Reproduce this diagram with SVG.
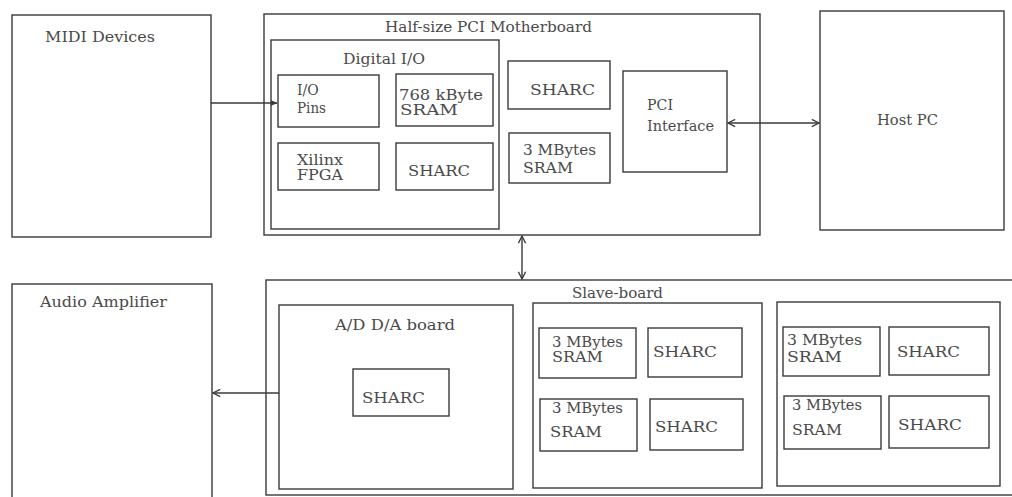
<svg xmlns="http://www.w3.org/2000/svg" width="1012" height="497" viewBox="0 0 1012 497">
<style>
rect{fill:none;stroke:#3a3a3a;stroke-width:1.4}
rect.bg{fill:#fff;stroke:none}
text{font-family:"DejaVu Serif","Liberation Serif",serif;font-size:14px;fill:#4a4a4a}
.c line{stroke:#3a3a3a;stroke-width:1.4}
</style>
<defs>
<marker id="a" viewBox="0 0 10 10" refX="9" refY="5" markerWidth="9" markerHeight="9" orient="auto-start-reverse" markerUnits="userSpaceOnUse">
<path d="M1,1 L9,5 L1,9" fill="none" stroke="#3a3a3a" stroke-width="1.5"/>
</marker>
<marker id="f" viewBox="0 0 10 10" refX="9" refY="5" markerWidth="7" markerHeight="7" orient="auto" markerUnits="userSpaceOnUse">
<path d="M0,1 L10,5 L0,9 z" fill="#3a3a3a"/>
</marker>
</defs>
<rect class="bg" width="1012" height="497"/>
<g id="midi"><rect x="12" y="15" width="199" height="222"/><text x="45" y="42" textLength="110" lengthAdjust="spacingAndGlyphs">MIDI Devices</text></g>
<g id="motherboard"><rect x="264" y="14" width="496" height="221"/><text x="385" y="32" textLength="207" lengthAdjust="spacingAndGlyphs">Half-size PCI Motherboard</text></g>
<g id="digitalio"><rect x="271" y="40" width="228" height="189"/><text x="343" y="64" textLength="82" lengthAdjust="spacingAndGlyphs">Digital I/O</text></g>
<g id="iopins"><rect x="278" y="75" width="101" height="52"/><text x="297" y="95">I/O</text><text x="297" y="113" textLength="29" lengthAdjust="spacingAndGlyphs">Pins</text></g>
<g id="sram768"><rect x="396" y="74" width="97" height="52"/><text x="399" y="100" textLength="84" lengthAdjust="spacingAndGlyphs">768 kByte</text><text x="400" y="115" textLength="58" lengthAdjust="spacingAndGlyphs">SRAM</text></g>
<g id="xilinx"><rect x="278" y="143" width="101" height="47"/><text x="297" y="165" textLength="46" lengthAdjust="spacingAndGlyphs">Xilinx</text><text x="297" y="180" textLength="46" lengthAdjust="spacingAndGlyphs">FPGA</text></g>
<g id="sharc-dio"><rect x="396" y="143" width="97" height="47"/><text x="408" y="176" textLength="62" lengthAdjust="spacingAndGlyphs">SHARC</text></g>
<g id="sharc-mb"><rect x="508" y="61" width="102" height="48"/><text x="530" y="95" textLength="65" lengthAdjust="spacingAndGlyphs">SHARC</text></g>
<g id="sram-mb"><rect x="509" y="133" width="101" height="50"/><text x="523" y="155" textLength="73" lengthAdjust="spacingAndGlyphs">3 MBytes</text><text x="523" y="173" textLength="50" lengthAdjust="spacingAndGlyphs">SRAM</text></g>
<g id="pci"><rect x="623" y="71" width="104" height="101"/><text x="647" y="110" textLength="26" lengthAdjust="spacingAndGlyphs">PCI</text><text x="647" y="131" textLength="67" lengthAdjust="spacingAndGlyphs">Interface</text></g>
<g id="hostpc"><rect x="820" y="11" width="184" height="219"/><text x="877" y="125" textLength="61" lengthAdjust="spacingAndGlyphs">Host PC</text></g>
<g id="audioamp"><rect x="12" y="284" width="200" height="220"/><text x="40" y="307" textLength="127" lengthAdjust="spacingAndGlyphs">Audio Amplifier</text></g>
<g id="slaveboard"><rect x="266" y="280" width="752" height="215"/><text x="572" y="298" textLength="91" lengthAdjust="spacingAndGlyphs">Slave-board</text></g>
<g id="adda"><rect x="279" y="305" width="234" height="184"/><text x="335" y="330" textLength="120" lengthAdjust="spacingAndGlyphs">A/D D/A board</text></g>
<g id="sharc-adda"><rect x="353" y="369" width="96" height="47"/><text x="362" y="403" textLength="63" lengthAdjust="spacingAndGlyphs">SHARC</text></g>
<g id="module1"><rect x="533" y="303" width="229" height="185"/></g>
<g id="m1-sram1"><rect x="539" y="328" width="97" height="50"/><text x="552" y="347" textLength="71" lengthAdjust="spacingAndGlyphs">3 MBytes</text><text x="552" y="362" textLength="51" lengthAdjust="spacingAndGlyphs">SRAM</text></g>
<g id="m1-sharc1"><rect x="648" y="328" width="94" height="49"/><text x="653" y="357" textLength="64" lengthAdjust="spacingAndGlyphs">SHARC</text></g>
<g id="m1-sram2"><rect x="540" y="399" width="97" height="52"/><text x="552" y="413" textLength="71" lengthAdjust="spacingAndGlyphs">3 MBytes</text><text x="550" y="437" textLength="52" lengthAdjust="spacingAndGlyphs">SRAM</text></g>
<g id="m1-sharc2"><rect x="650" y="399" width="93" height="51"/><text x="655" y="432" textLength="63" lengthAdjust="spacingAndGlyphs">SHARC</text></g>
<g id="module2"><rect x="777" y="302" width="223" height="184"/></g>
<g id="m2-sram1"><rect x="783" y="327" width="97" height="49"/><text x="787" y="345" textLength="75" lengthAdjust="spacingAndGlyphs">3 MBytes</text><text x="787" y="362" textLength="55" lengthAdjust="spacingAndGlyphs">SRAM</text></g>
<g id="m2-sharc1"><rect x="889" y="327" width="100" height="48"/><text x="897" y="357" textLength="63" lengthAdjust="spacingAndGlyphs">SHARC</text></g>
<g id="m2-sram2"><rect x="784" y="396" width="97" height="53"/><text x="792" y="410" textLength="70" lengthAdjust="spacingAndGlyphs">3 MBytes</text><text x="792" y="435" textLength="50" lengthAdjust="spacingAndGlyphs">SRAM</text></g>
<g id="m2-sharc2"><rect x="889" y="396" width="100" height="52"/><text x="898" y="430" textLength="64" lengthAdjust="spacingAndGlyphs">SHARC</text></g>
<g id="connectors" class="c">
<line x1="211" y1="103" x2="277" y2="103" marker-end="url(#f)"/>
<line x1="728" y1="123" x2="819" y2="123" marker-start="url(#a)" marker-end="url(#a)"/>
<line x1="522" y1="236" x2="522" y2="279" marker-start="url(#a)" marker-end="url(#a)"/>
<line x1="279" y1="393" x2="213" y2="393" marker-end="url(#a)"/>
</g>
</svg>
